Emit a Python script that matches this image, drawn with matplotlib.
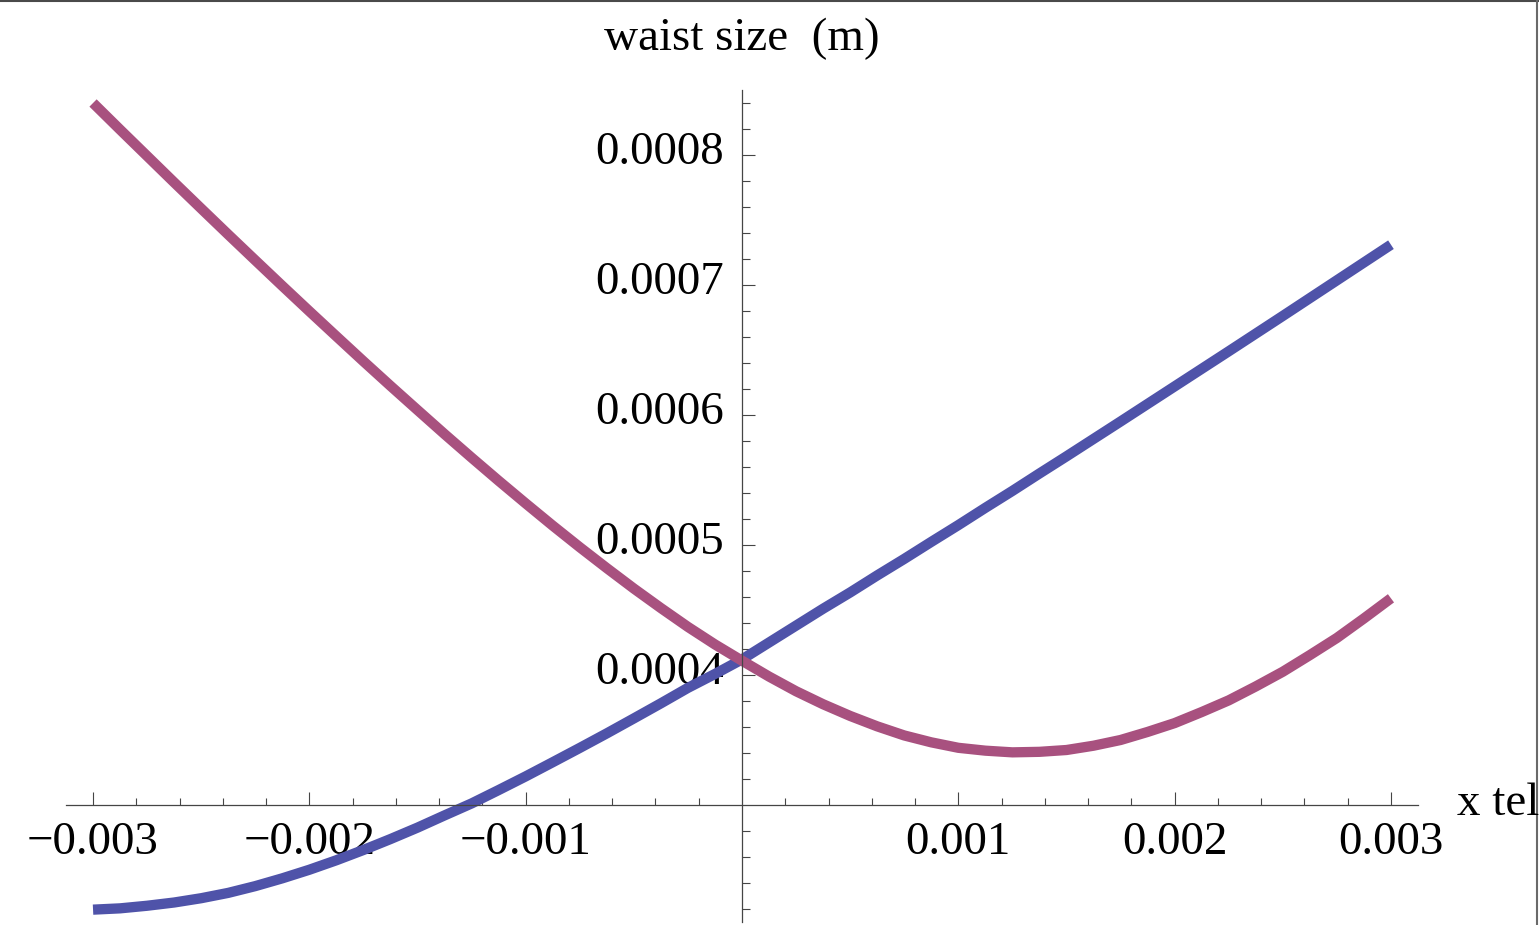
import matplotlib
matplotlib.use('Agg')
import matplotlib.pyplot as plt
from matplotlib.lines import Line2D
from matplotlib.ticker import FixedLocator, FuncFormatter
from matplotlib.transforms import ScaledTranslation

# x position of the telescope (mm) and waist size (um)
x_tel_mm = [-3.0, -2.875, -2.75, -2.625, -2.5, -2.375, -2.25, -2.125, -2.0, -1.875,
            -1.75, -1.625, -1.5, -1.375, -1.25, -1.125, -1.0, -0.875, -0.75, -0.625,
            -0.5, -0.375, -0.25, -0.125, 0.0, 0.125, 0.25, 0.375, 0.5, 0.625,
            0.75, 0.875, 1.0, 1.125, 1.25, 1.375, 1.5, 1.625, 1.75, 1.875,
            2.0, 2.125, 2.25, 2.375, 2.5, 2.625, 2.75, 2.875, 3.0]
waist_blue_um = [219.5, 220.5, 222.5, 225.0, 228.3, 232.4, 237.6, 243.6, 250.2, 257.5,
                 265.4, 273.8, 282.6, 292.0, 301.2, 311.5, 322.0, 332.9, 343.9, 355.1,
                 366.6, 378.2, 390.1, 400.8, 412.0, 425.0, 438.0, 451.0, 463.5, 476.6,
                 489.3, 502.4, 515.3, 528.6, 541.6, 555.0, 568.2, 581.6, 595.0, 608.5,
                 622.0, 635.5, 649.0, 662.6, 676.2, 689.9, 703.6, 717.3, 731.0]
waist_pink_um = [840.0, 819.5, 799.2, 778.9, 758.8, 738.8, 719.0, 699.3, 679.8, 660.5,
                 641.3, 622.4, 603.8, 585.3, 567.2, 549.4, 532.0, 514.9, 498.3, 482.2,
                 466.5, 451.5, 437.0, 423.5, 411.0, 398.8, 387.5, 377.5, 368.5, 360.5,
                 353.5, 348.2, 344.0, 341.8, 340.5, 340.9, 342.3, 345.6, 350.0, 356.2,
                 363.0, 371.5, 380.5, 391.2, 402.5, 415.3, 428.5, 443.5, 459.0]

x_major = [-0.003, -0.002, -0.001, 0.001, 0.002, 0.003]
y_major = [0.0004, 0.0005, 0.0006, 0.0007, 0.0008]

BLUE = '#4f53a9'
PINK = '#a8517f'
AXIS = '#454545'
FONT = 'Liberation Serif'
FS = 33.8


def main() -> None:
    W, H = 1539, 925
    fig = plt.figure(figsize=(W / 100, H / 100), dpi=100)
    ax = fig.add_axes([66 / W, 3 / H, 1352 / W, 832 / H])

    xs = [v * 1e-3 for v in x_tel_mm]
    ax.plot(xs, [v * 1e-6 for v in waist_blue_um], color=BLUE, lw=7.4,
            solid_capstyle='butt', solid_joinstyle='round')
    ax.plot(xs, [v * 1e-6 for v in waist_pink_um], color=PINK, lw=7.4,
            solid_capstyle='butt', solid_joinstyle='round')

    ax.set_xlim(-0.003125, 0.003125)
    ax.set_ylim(0.00021, 0.00085)

    for s in ('top', 'right'):
        ax.spines[s].set_visible(False)
    ax.spines['left'].set_position(('data', 0))
    ax.spines['bottom'].set_position(('data', 0.0003))
    for s in ('left', 'bottom'):
        ax.spines[s].set_color(AXIS)
        ax.spines[s].set_linewidth(0.9)

    x_minor = [i * 0.0002 for i in range(-15, 16)]
    x_minor = [v for v in x_minor if all(abs(v - m) > 1e-9 for m in x_major) and abs(v) > 1e-9]
    y_minor = [0.00022 + i * 0.00002 for i in range(32)]
    y_minor = [v for v in y_minor if all(abs(v - m) > 1e-9 for m in y_major + [0.0003])]

    ax.xaxis.set_major_locator(FixedLocator(x_major))
    ax.xaxis.set_minor_locator(FixedLocator(x_minor))
    ax.yaxis.set_major_locator(FixedLocator(y_major))
    ax.yaxis.set_minor_locator(FixedLocator(y_minor))

    fmt = FuncFormatter(lambda v, p: ('%g' % round(v, 6)).replace('-', '\u2212'))
    ax.xaxis.set_major_formatter(fmt)
    ax.yaxis.set_major_formatter(fmt)

    ax.tick_params(which='both', direction='in', color=AXIS, width=0.8,
                   labelsize=FS, labelfontfamily=FONT)
    ax.tick_params(axis='x', which='major', length=9.4, pad=12)
    ax.tick_params(axis='x', which='minor', length=5)
    ax.tick_params(axis='y', which='major', length=9.4, pad=13)
    ax.tick_params(axis='y', which='minor', length=5.8)

    # y labels sit a little above their ticks in the original
    lift = ScaledTranslation(0, 2 / 100, fig.dpi_scale_trans)
    for tick in ax.yaxis.get_major_ticks():
        tick.label1.set_verticalalignment('center')
        tick.label1.set_transform(tick.label1.get_transform() + lift)

    fig.text(742 / W, 1 - 50 / H, 'waist size  (m)', ha='center', va='baseline',
             fontsize=FS, family=FONT)
    fig.text(1457 / W, 1 - 815 / H, 'x tel', ha='left', va='baseline',
             fontsize=FS, family=FONT)

    # screenshot frame at the top and right edge
    fig.add_artist(Line2D([0, 1], [1 - 1 / H, 1 - 1 / H], transform=fig.transFigure,
                          color='#4a4a4a', lw=1.5))
    fig.add_artist(Line2D([1 - 2 / W, 1 - 2 / W], [0, 1], transform=fig.transFigure,
                          color='#6a6a6a', lw=1.5))

    fig.savefig('out.png', dpi=100)


if __name__ == '__main__':
    main()
